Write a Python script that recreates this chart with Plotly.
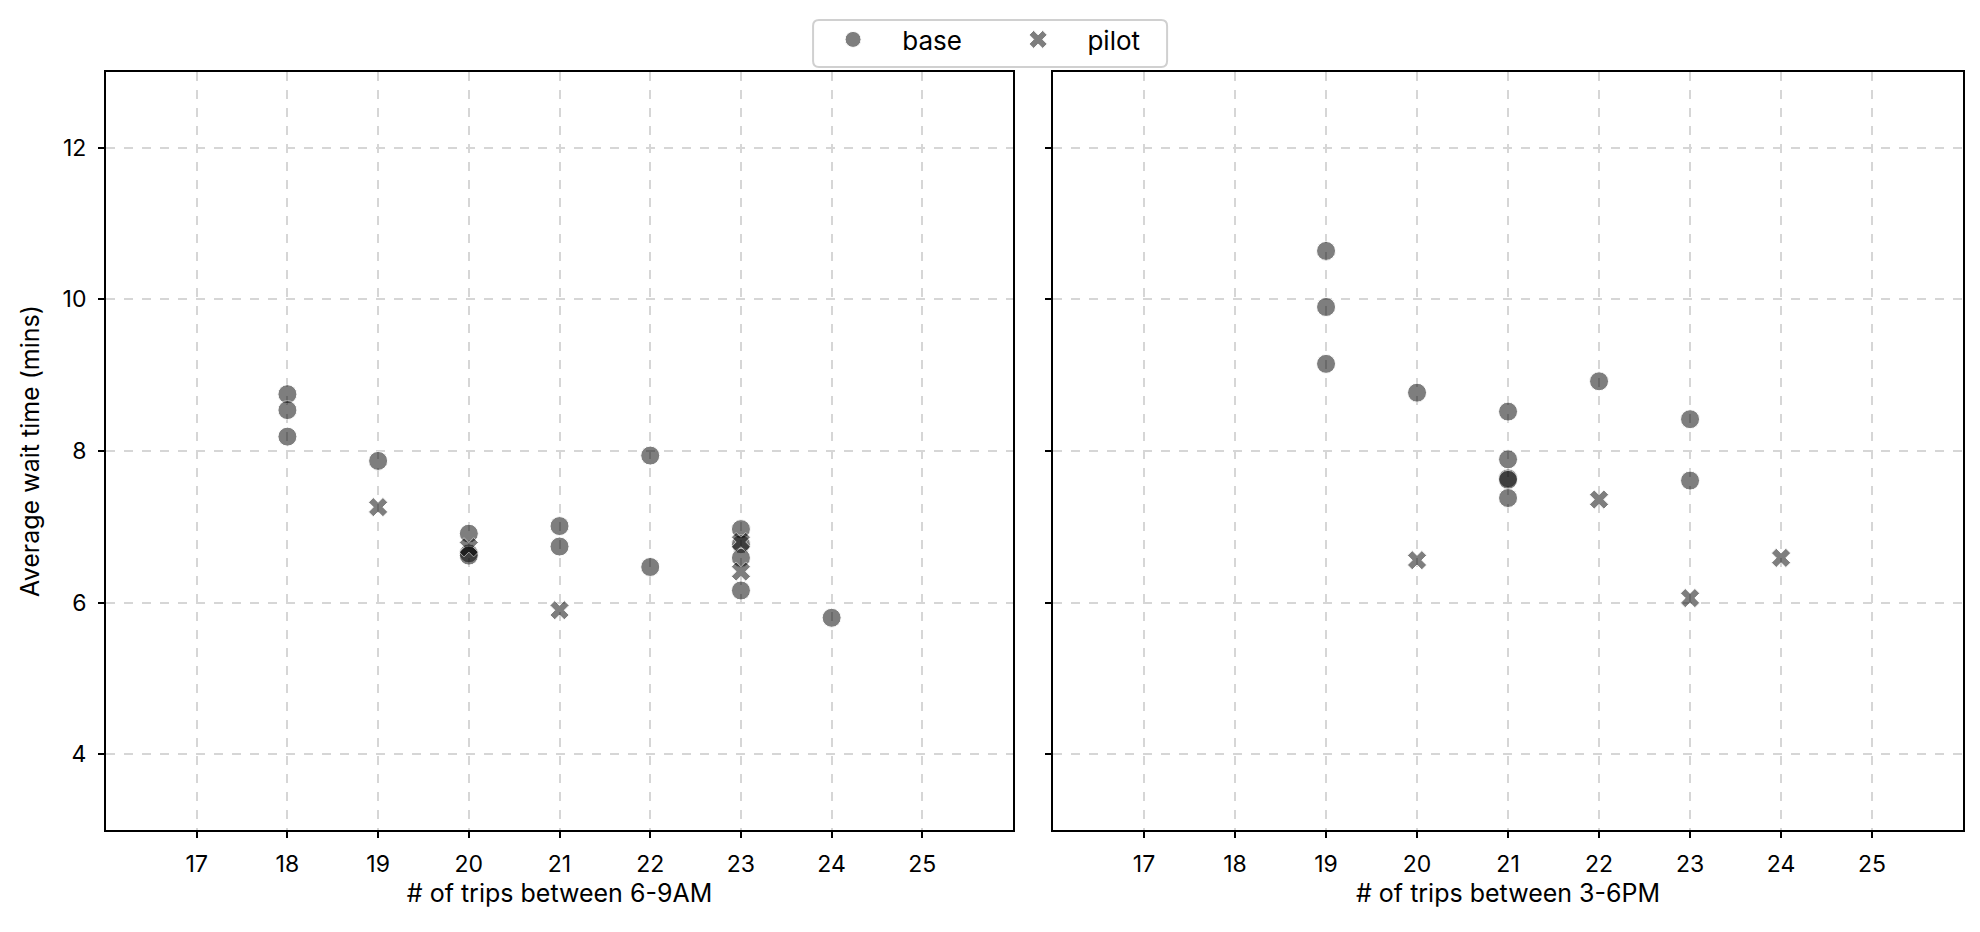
import plotly.graph_objects as go
from plotly.subplots import make_subplots

# ---- data ----
am_base_x = [18, 18, 18, 19, 20, 20, 20, 21, 21, 22, 22, 23, 23, 23, 23, 24]
am_base_y = [8.75, 8.54, 8.19, 7.87, 6.91, 6.65, 6.62, 7.01, 6.74, 7.94, 6.47, 6.97, 6.77, 6.59, 6.16, 5.80]
am_pilot_x = [19, 20, 21, 23, 23]
am_pilot_y = [7.26, 6.73, 5.90, 6.80, 6.41]

pm_base_x = [19, 19, 19, 20, 21, 21, 21, 21, 21, 22, 23, 23]
pm_base_y = [10.64, 9.90, 9.15, 8.77, 8.52, 7.89, 7.64, 7.62, 7.38, 8.92, 8.42, 7.61]
pm_pilot_x = [20, 22, 23, 24]
pm_pilot_y = [6.56, 7.36, 6.06, 6.59]

x_ticks = [17, 18, 19, 20, 21, 22, 23, 24, 25]
y_ticks = [4, 6, 8, 10, 12]

FONT = "Inter"
NB = "\u00a0"   # non-breaking spaces to push legend text/items apart like the original

fig = make_subplots(rows=1, cols=2, shared_yaxes=True)

circle = dict(symbol="circle", size=19, color="black", opacity=0.5,
              line=dict(color="white", width=1))
cross = dict(symbol="x", size=17, color="black", opacity=0.5,
             line=dict(color="white", width=1))

# morning panel
fig.add_trace(go.Scatter(x=am_base_x, y=am_base_y, mode="markers", name=NB * 4 + "base" + NB * 7,
                         marker=circle, legendgroup="base"), row=1, col=1)
fig.add_trace(go.Scatter(x=am_pilot_x, y=am_pilot_y, mode="markers", name=NB * 4 + "pilot",
                         marker=cross, legendgroup="pilot"), row=1, col=1)
# evening panel
fig.add_trace(go.Scatter(x=pm_base_x, y=pm_base_y, mode="markers", name="base",
                         marker=circle, legendgroup="base", showlegend=False), row=1, col=2)
fig.add_trace(go.Scatter(x=pm_pilot_x, y=pm_pilot_y, mode="markers", name="pilot",
                         marker=cross, legendgroup="pilot", showlegend=False), row=1, col=2)

axis_style = dict(
    showline=True, linecolor="black", linewidth=2, mirror=True,
    ticks="outside", ticklen=6, tickwidth=2, tickcolor="black",
    showgrid=True, gridcolor="#d6d6d6", gridwidth=1.5, griddash="dash",
    zeroline=False,
    tickfont=dict(family=FONT, size=23, color="black"),
)

title_font = dict(family=FONT, size=25, color="black")

fig.update_xaxes(axis_style, range=[16, 26], tickvals=x_ticks, ticklabelstandoff=6)
fig.update_yaxes(axis_style, range=[3, 13], tickvals=y_ticks, ticklabelstandoff=7)

fig.update_xaxes(domain=[0.0495, 0.5076], row=1, col=1,
                 title=dict(text="# of trips between 6-9AM", standoff=8, font=title_font))
fig.update_xaxes(domain=[0.5278, 0.9874], row=1, col=2,
                 title=dict(text="# of trips between 3-6PM", standoff=8, font=title_font))
fig.update_yaxes(domain=[0.118, 0.9313], row=1, col=1,
                 title=dict(text="Average wait time (mins)", standoff=16, font=title_font))
fig.update_yaxes(domain=[0.118, 0.9313], row=1, col=2, showticklabels=False)

# rounded frame behind the legend (matplotlib style legend box)
x0, x1, y0, y1 = 0.4066, 0.5854, 0.9367, 0.9871
rx, ry = 0.003, 0.0064
frame = (f"M {x0 + rx},{y1} L {x1 - rx},{y1} Q {x1},{y1} {x1},{y1 - ry} "
         f"L {x1},{y0 + ry} Q {x1},{y0} {x1 - rx},{y0} "
         f"L {x0 + rx},{y0} Q {x0},{y0} {x0},{y0 + ry} "
         f"L {x0},{y1 - ry} Q {x0},{y1} {x0 + rx},{y1} Z")
fig.add_shape(type="path", path=frame, xref="paper", yref="paper",
              line=dict(color="#d0d0d0", width=2), fillcolor="white", layer="above")

fig.update_layout(
    width=1980, height=932,
    margin=dict(l=0, r=0, t=0, b=0),
    paper_bgcolor="white", plot_bgcolor="white",
    font=dict(family=FONT, size=23, color="black"),
    legend=dict(orientation="h", x=0.4167, xanchor="left", y=0.9914, yanchor="top",
                borderwidth=0, bgcolor="rgba(0,0,0,0)",
                font=dict(family=FONT, size=26, color="black"),
                itemsizing="trace"),
)

fig.write_html("out.html")
